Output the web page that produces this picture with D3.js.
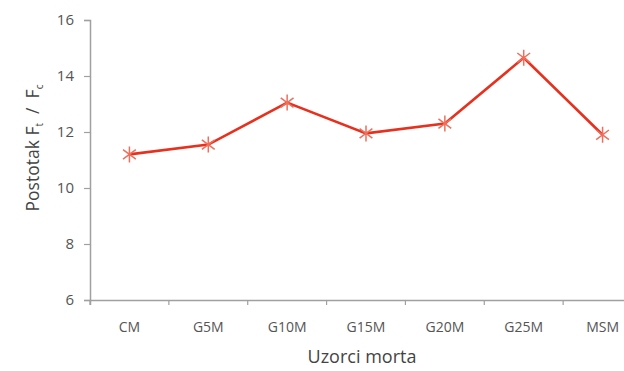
<!DOCTYPE html>
<html>
<head>
<meta charset="utf-8">
<script src="https://d3js.org/d3.v7.min.js"></script>
<style>
  body { margin: 0; background: #fff; }
  text { font-family: "Open Sans", sans-serif; }
</style>
</head>
<body>
<svg width="624" height="371"></svg>
<script>
// podaci
var categories = ["CM", "G5M", "G10M", "G15M", "G20M", "G25M", "MSM"];
var values = [11.2, 11.55, 13.05, 11.95, 12.3, 14.65, 11.9];
var yTicks = [6, 8, 10, 12, 14, 16];

var svg = d3.select("svg");

var x = d3.scaleBand()
    .domain(categories)
    .range([90, 642]);

var y = d3.scaleLinear()
    .domain([6, 16])
    .range([300, 20]);

var axisColor = "#a0a0a0";
var tickColor = "#555";

// y os
var gy = svg.append("g")
    .attr("transform", "translate(90,0)")
    .call(d3.axisLeft(y).tickValues(yTicks).tickSize(6).tickPadding(10));
gy.select(".domain").attr("stroke", axisColor).attr("stroke-width", 1.5);
gy.selectAll(".tick line").attr("stroke", axisColor).attr("stroke-width", 1.2);
gy.selectAll(".tick text").attr("fill", tickColor).style("font-size", "15px");

// x os
var gx = svg.append("g")
    .attr("transform", "translate(0,300)")
    .call(d3.axisBottom(x).tickSizeOuter(0).tickSize(5).tickPadding(17));
gx.select(".domain").attr("stroke", axisColor).attr("stroke-width", 1.5);
gx.selectAll(".tick line")
    .attr("stroke", axisColor)
    .attr("stroke-width", 1.2)
    .attr("transform", "translate(" + (-x.bandwidth() / 2) + ",0)");
gx.selectAll(".tick text").attr("fill", tickColor).style("font-size", "14px");

// naslovi osi
svg.append("text")
    .attr("x", 362)
    .attr("y", 363)
    .attr("text-anchor", "middle")
    .attr("fill", "#444")
    .style("font-size", "18px")
    .text("Uzorci morta");

var yl = svg.append("text")
    .attr("transform", "translate(39,148) rotate(-90)")
    .attr("text-anchor", "middle")
    .attr("fill", "#444")
    .style("font-size", "17.5px")
    .attr("xml:space", "preserve");
yl.append("tspan").text("Postotak F");
yl.append("tspan").attr("dy", 4).style("font-size", "10px").text("t");
yl.append("tspan").attr("dy", -4).text("  /  F");
yl.append("tspan").attr("dy", 4).style("font-size", "10px").text("c");

// linija
var data = categories.map(function(c, i) { return {c: c, v: values[i]}; });

var line = d3.line()
    .x(function(d) { return x(d.c) + x.bandwidth() / 2; })
    .y(function(d) { return y(d.v); });

svg.append("path")
    .datum(data)
    .attr("d", line)
    .attr("fill", "none")
    .attr("stroke", "#e8301e")
    .attr("stroke-width", 2.6);

// markeri (zvjezdice)
var r = 8;
svg.selectAll(".mk")
    .data(data)
    .enter().append("path")
    .attr("class", "mk")
    .attr("transform", function(d) {
        return "translate(" + (x(d.c) + x.bandwidth() / 2) + "," + y(d.v) + ")";
    })
    .attr("d", "M0," + (-r) + "V" + r +
               "M" + (-r * 0.8) + "," + (-r * 0.6) + "L" + (r * 0.8) + "," + (r * 0.6) +
               "M" + (-r * 0.8) + "," + (r * 0.6) + "L" + (r * 0.8) + "," + (-r * 0.6))
    .attr("fill", "none")
    .attr("stroke", "#ee6f5c")
    .attr("stroke-width", 1.5);
</script>
</body>
</html>
